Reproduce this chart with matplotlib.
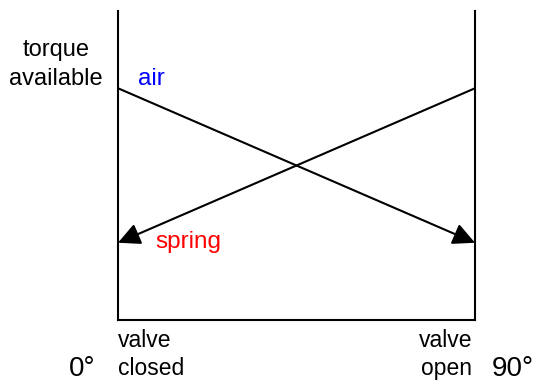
import matplotlib
matplotlib.use("Agg")
import matplotlib.pyplot as plt

plt.rcParams['font.family'] = ['Liberation Sans', 'DejaVu Sans']

# data: valve angle (deg) and available torque (arbitrary units)
angle = [0, 90]
air_torque = [75, 25]      # air: high at closed, low at open
spring_angle = [90, 0]
spring_torque = [75, 25]   # spring: drawn from open (high) to closed (low)

W, H = 539, 383
fig = plt.figure(figsize=(W / 100, H / 100), dpi=100)
L, R, T, B = 118, 475, 11, 320
ax = fig.add_axes([L / W, 1 - B / H, (R - L) / W, (B - T) / H])
ax.set_xlim(0, 90)
ax.set_ylim(0, 100)
ax.set_xticks([])
ax.set_yticks([])
ax.spines['top'].set_visible(False)
for s in ('left', 'right', 'bottom'):
    ax.spines[s].set_linewidth(1.5)
    ax.spines[s].set_color('black')

aprops = dict(arrowstyle='-|>,head_length=0.67,head_width=0.33', mutation_scale=20,
              color='black', lw=1.5, shrinkA=0, shrinkB=0)
ax.annotate('', xy=(angle[1], air_torque[1]), xytext=(angle[0], air_torque[0]),
            arrowprops=aprops)
ax.annotate('', xy=(spring_angle[1], spring_torque[1]), xytext=(spring_angle[0], spring_torque[0]),
            arrowprops=aprops)


def px(x, y):
    return x / W, 1 - y / H


def t(x, y, s, fs, ha='left', color='black'):
    fig.text(*px(x, y), s, ha=ha, va='baseline', fontsize=fs, color=color)


t(56, 56, 'torque', 17, ha='center')
t(56, 85, 'available', 17, ha='center')
t(138, 85, 'air', 17.5, color='blue')
t(155, 248, 'spring', 17.5, color='red')
t(118, 347, 'valve', 16.5)
t(118, 375, 'closed', 16.5)
t(472, 347, 'valve', 16.5, ha='right')
t(472, 375, 'open', 16.5, ha='right')
t(69, 376, '0°', 20)
t(492, 376, '90°', 20)

fig.savefig('out.png', dpi=100)
